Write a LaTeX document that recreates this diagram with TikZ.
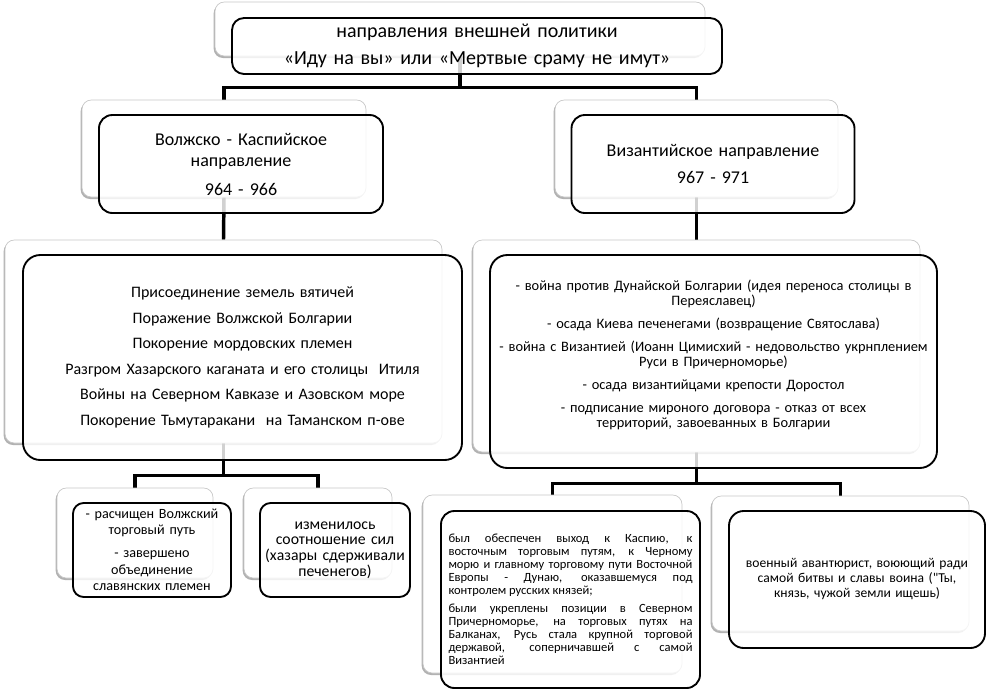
\documentclass[tikz,border=0pt]{standalone}
\usepackage{fontspec}
\setmainfont{Carlito}
\newfontfamily\plainfont{Carlito}
\usetikzlibrary{shadows,backgrounds}

\tikzset{
  sz/.style 2 args={minimum width=#1*0.75pt, minimum height=#2*0.75pt},
  back/.style={draw=black!22, line width=0.5pt, fill=white, rounded corners=7pt, inner sep=0pt,
    drop shadow={shadow xshift=-1pt, shadow yshift=-1.5pt, fill=black, opacity=0.3}},
  front/.style={draw=black, line width=1.4pt, fill=white, fill opacity=0.82, text opacity=1,
    rounded corners=9pt, inner sep=0pt, align=center},
  link/.style={line width=2.6pt},
}

\begin{document}
\begin{tikzpicture}[x=0.75pt,y=-0.75pt]
  \useasboundingbox (0,0) rectangle (986,690);

  % back shapes
  \node[back, sz={490}{54}] (topB) at (460,29) {};
  \node[back, sz={284}{97}] (volgaB) at (224,148.5) {};
  \node[back, sz={283}{97}] (byzB) at (696.5,148.5) {};
  \node[back, sz={437}{203}] (volgaListB) at (223.5,341.5) {};
  \node[back, sz={447}{212}] (byzListB) at (696.5,346) {};
  \node[back, sz={156}{90}] (res1B) at (135,533) {};
  \node[back, sz={148}{90}] (res2B) at (318,533) {};
  \node[back, sz={259}{178}] (gainB) at (552.5,584) {};
  \node[back, sz={257}{135}] (charB) at (840.5,563.5) {};

  % connectors
  \begin{scope}[on background layer]
  \draw[link] (topB.south) -- ++(0,31) -| (volgaB.north);
  \draw[link] (topB.south) -- ++(0,31) -| (byzB.north);
  \draw[link] (volgaB.south) -- (volgaListB.north);
  \draw[link] (byzB.south) -- (byzListB.north);
  \draw[link] (volgaListB.south) -- ++(0,32) -| (res1B.north);
  \draw[link] (volgaListB.south) -- ++(0,32) -| (res2B.north);
  \draw[link] (byzListB.south) -- ++(0,31) -| (gainB.north);
  \draw[link] (byzListB.south) -- ++(0,31) -| (charB.north);
  \end{scope}

  % front boxes with text
  \node[front, sz={490}{56}, text width=460*0.75pt, font=\fontsize{15}{18}\selectfont] (topF) at (477,46)
    {направления внешней политики\\[2pt]«Иду на вы» или «Мертвые сраму не имут»};
  \node[front, rounded corners=10pt, sz={284}{98}, text width=260*0.75pt, font=\fontsize{13.5}{15.75}\selectfont] (volgaF) at (241,164)
    {Волжско - Каспийское\\направление\\[6pt]964 - 966};
  \node[front, rounded corners=10pt, sz={283}{98}, text width=260*0.75pt, font=\fontsize{13.5}{15.75}\selectfont] (byzF) at (713,164)
    {Византийское направление\\[5pt]967 - 971};
  \node[front, rounded corners=13pt, sz={439}{205}, text width=425*0.75pt, font=\fontsize{12}{14.5}\selectfont] (volgaListF) at (242.5,357.5)
    {Присоединение земель вятичей\\[4.6pt]
     Поражение Волжской Болгарии\\[4.6pt]
     Покорение мордовских племен\\[4.6pt]
     Разгром Хазарского каганата и его столицы~ Итиля\\[4.6pt]
     Войны на Северном Кавказе и Азовском море\\[4.6pt]
     Покорение Тьмутаракани~ на Таманском п-ове};
  \node[front, rounded corners=13pt, sz={447}{213}, text width=440*0.75pt, font=\fontsize{10.8}{11.25}\selectfont] (byzListF) at (713.5,361.5)
    {- война против Дунайской Болгарии (идея переноса столицы в\\Переяславец)\\[6pt]
     - осада Киева печенегами (возвращение Святослава)\\[6pt]
     - война с Византией (Иоанн Цимисхий - недовольство укрнплением\\Руси в Причерноморье)\\[6pt]
     - осада византийцами крепости Доростол\\[6pt]
     - подписание мироного договора - отказ от всех\\территорий, завоеванных в Болгарии\\[1pt]\mbox{}};
  \node[front, rounded corners=8pt, sz={158}{94}, text width=150*0.75pt, font=\fontsize{10.6}{12.4}\selectfont] (res1F) at (152,550)
    {- расчищен Волжский\\торговый путь\\[4.8pt]- завершено\\объединение\\славянских племен};
  \node[front, rounded corners=8pt, sz={146}{94}, text width=150*0.75pt, font=\fontsize{11.8}{11.8}\selectfont] (res2F) at (335,550)
    {изменилось\\соотношение сил\\(хазары сдерживали\\печенегов)};
  \node[front, rounded corners=10pt, sz={259}{177}, text width=244*0.75pt, align=justify, font=\fontsize{9.4}{9.75}\selectfont] (gainF) at (570.5,599.5)
    {был обеспечен выход к Каспию, к\linebreak
     восточным торговым путям, к Черному\linebreak
     морю и главному торговому пути Восточной\linebreak
     Европы - Дунаю, оказавшемуся под\linebreak
     контролем русских князей;\par\vspace{3.75pt}
     были укреплены позиции в Северном\linebreak
     Причерноморье, на торговых путях на\linebreak
     Балканах, Русь стала крупной торговой\linebreak
     державой, соперничавшей с самой\linebreak
     Византией};
  \node[front, rounded corners=11pt, sz={256}{137}, text width=248*0.75pt, font=\fontsize{10.2}{11.25}\selectfont] (charF) at (857,579.5)
    {военный авантюрист, воюющий ради\\самой битвы и славы воина ({\plainfont"}Ты,\\князь, чужой земли ищешь)};
\end{tikzpicture}
\end{document}
